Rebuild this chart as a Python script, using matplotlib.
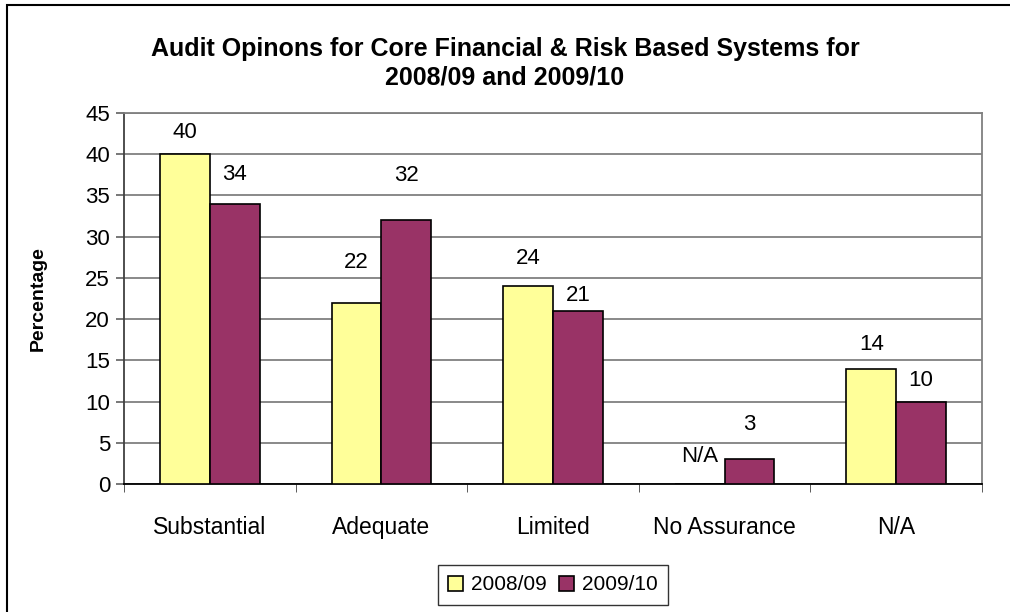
import matplotlib.pyplot as plt
import numpy as np
from matplotlib.patches import Rectangle

plt.rcParams['font.family'] = ['Liberation Sans', 'DejaVu Sans']

categories = ['Substantial', 'Adequate', 'Limited', 'No Assurance', 'N/A']
vals_0809 = [40, 22, 24, 0, 14]
vals_0910 = [34, 32, 21, 3, 10]
labels_0809 = ['40', '22', '24', 'N/A', '14']
labels_0910 = ['34', '32', '21', '3', '10']
# décalage vertical des étiquettes (comme placé par Excel)
offs_0809 = [2.6, 4.9, 3.3, 3.3, 2.9]
offs_0910 = [3.6, 5.4, 1.9, 4.2, 2.6]

fig = plt.figure(figsize=(10.1, 6.12), dpi=100)
ax = fig.add_axes([124 / 1010, 1 - 484 / 612, (982 - 124) / 1010, (484 - 113) / 612])

# cadre extérieur (seuls bords gauche et haut visibles)
fig.patches.append(Rectangle((7 / 1010, -0.05), 1.2, 1 - 5 / 612 + 0.05,
                             transform=fig.transFigure, fill=False,
                             edgecolor='black', linewidth=1.5))

x = np.arange(len(categories))
w = 0.29
b1 = ax.bar(x - w / 2, vals_0809, width=w, color='#FFFF99', edgecolor='black', linewidth=1.2, label='2008/09', zorder=3)
b2 = ax.bar(x + w / 2, vals_0910, width=w, color='#993366', edgecolor='black', linewidth=1.2, label='2009/10', zorder=3)

for bars, labs, offs in [(b1, labels_0809, offs_0809), (b2, labels_0910, offs_0910)]:
    for rect, lab, o in zip(bars, labs, offs):
        ax.text(rect.get_x() + rect.get_width() / 2, rect.get_height() + o, lab,
                ha='center', va='center', fontsize=16)

ax.set_xlim(-0.5, len(categories) - 0.5)
ax.set_ylim(0, 45)
ax.set_yticks(np.arange(0, 46, 5))
ax.yaxis.grid(True, color='#808080', linewidth=1.3, zorder=0)
ax.set_axisbelow(True)

ax.set_xticks(x)
ax.set_xticklabels(categories, fontsize=16.5)
ax.set_xticks(np.arange(-0.5, len(categories)), minor=True)
ax.tick_params(axis='x', which='major', length=0, pad=23)
ax.tick_params(axis='x', which='minor', length=6, color='#404040', direction='out')
ax.tick_params(axis='y', labelsize=16, length=6, color='#606060', width=1.2, pad=4)

for s in ['top', 'right']:
    ax.spines[s].set_color('#808080')
    ax.spines[s].set_linewidth(1.3)
ax.spines['left'].set_color('#404040')
ax.spines['bottom'].set_color('black')
ax.spines['left'].set_linewidth(1.3)
ax.spines['bottom'].set_linewidth(1.3)

ax.set_ylabel('Percentage', fontsize=14, fontweight='bold')
ax.yaxis.set_label_coords((47 - 124) / 858, 0.5)
fig.text(0.5, 1 - 63 / 612, 'Audit Opinons for Core Financial & Risk Based Systems for\n2008/09 and 2009/10',
         ha='center', va='center', fontsize=18, fontweight='bold', linespacing=1.25)

leg = fig.legend(loc='center', bbox_to_anchor=(553 / 1010, 1 - 585 / 612), ncol=2,
                 fontsize=15, frameon=True, fancybox=False, edgecolor='black',
                 handlelength=0.7, handleheight=0.7, handletextpad=0.4, columnspacing=0.6,
                 borderpad=0.5)
leg.get_frame().set_linewidth(1.0)

fig.savefig('out.png', dpi=100)
